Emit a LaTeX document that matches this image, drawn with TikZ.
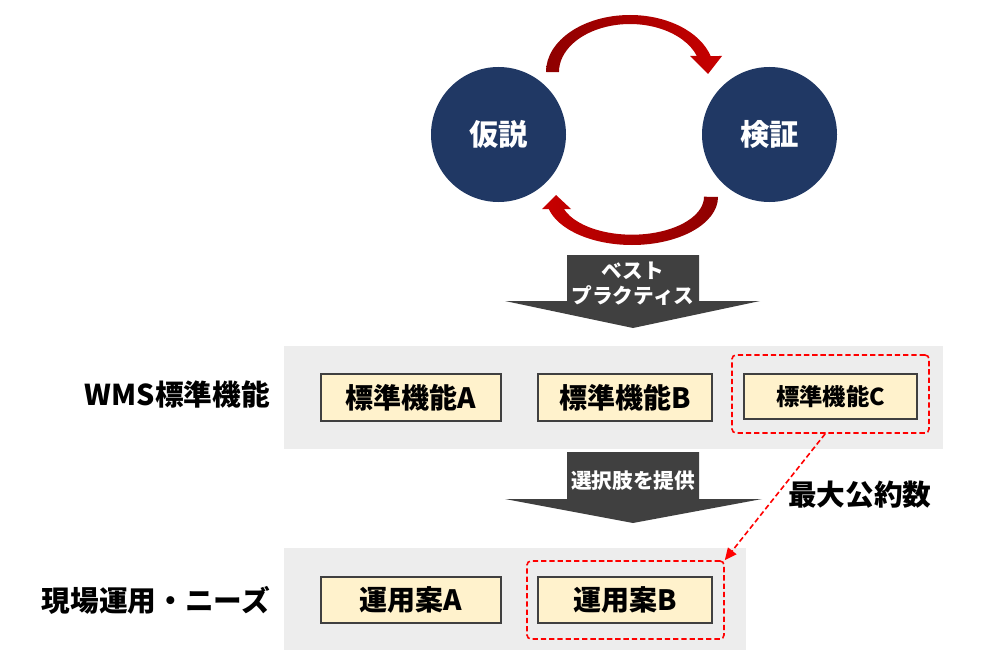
\documentclass[tikz,border=0pt]{standalone}
\usepackage{fontspec}
\setmainfont{Noto Sans CJK JP}
\usetikzlibrary{arrows.meta}
\definecolor{circblue}{HTML}{203864}
\definecolor{panelgray}{HTML}{EDEDED}
\definecolor{boxfill}{HTML}{FFF2CC}
\definecolor{boxborder}{HTML}{404040}
\definecolor{arrgray}{HTML}{404040}
\definecolor{arrdark}{HTML}{8E0000}
\definecolor{arrred}{HTML}{C80000}
\definecolor{dashred}{HTML}{FF0000}
\begin{document}
\begin{tikzpicture}[x=0.75pt,y=-0.75pt,
  circ/.style={circle, fill=circblue, minimum size=101.25pt, inner sep=0pt, text=white, font=\bfseries\fontsize{22}{26}\selectfont},
  panel/.style={fill=panelgray, draw=none, inner sep=0pt},
  featbox/.style={draw=boxborder, line width=1.3pt, fill=boxfill, inner sep=0pt, font=\bfseries\fontsize{21}{25}\selectfont},
  redbox/.style={draw=dashred, dash pattern=on 4pt off 2.2pt, line width=1.2pt, rounded corners=3pt, inner sep=0pt},
  arrtext/.style={text=white, align=center, inner sep=0pt, font=\bfseries\fontsize{15.5}{18.75}\selectfont},
  sidelabel/.style={inner sep=0pt, font=\bfseries\fontsize{21.5}{25}\selectfont}]
\useasboundingbox (0,0) rectangle (997,660);

% cycle
\node[circ] (kasetsu) at (498.5,134.5) {仮説};
\node[circ] (kensho) at (769.5,134.5) {検証};
\shade[left color=arrdark, right color=arrred]
  (546,72) arc[start angle=180, end angle=343.7, x radius=84, y radius=57]
  -- (722,56) -- (708,74) -- (690,56) -- (696.9,56)
  arc[start angle=340.5, end angle=180, x radius=71, y radius=48] -- cycle;
\shade[left color=arrred, right color=arrdark]
  (718,197) arc[start angle=0, end angle=165.5, x radius=86, y radius=48]
  -- (542,209) -- (556,195) -- (571,209) -- (563.9,209)
  arc[start angle=161.1, end angle=0, x radius=72, y radius=38] -- cycle;

% big arrow 1
\fill[arrgray] (567,255) -- (699,255) -- (699,301) -- (760,301) -- (633,328)
  -- (505,301) -- (567,301) -- cycle;
\node[arrtext] (best) at (633,284) {ベスト\\プラクティス};

% panel 1
\node[panel, minimum width=494.25pt, minimum height=77.25pt] (panelA) at (613.5,397.5) {};
\node[featbox, minimum width=135pt, minimum height=35.25pt] (fa) at (411,397.5) {標準機能A};
\node[featbox, minimum width=130.5pt, minimum height=35.25pt] (fb) at (625,397.5) {標準機能B};
\node[featbox, minimum width=129.75pt, minimum height=33.75pt, font=\bfseries\fontsize{17.5}{21}\selectfont] (fc) at (830.5,396.5) {標準機能C};
\node[redbox, minimum width=147.75pt, minimum height=58.5pt] (dashC) at (830.5,394) {};
\node[sidelabel, anchor=east] (wms) at (270,395) {WMS標準機能};

% big arrow 2
\fill[arrgray] (567,452) -- (699,452) -- (699,499) -- (762,499) -- (633,523)
  -- (505,499) -- (567,499) -- cycle;
\node[arrtext] (choice) at (633,481) {選択肢を提供};

% panel 2
\node[panel, minimum width=346.5pt, minimum height=76.5pt] (panelB) at (515,599) {};
\node[featbox, minimum width=135pt, minimum height=34.5pt] (ua) at (411,600) {運用案A};
\node[featbox, minimum width=130.5pt, minimum height=34.5pt] (ub) at (625,600) {運用案B};
\node[redbox, minimum width=147.75pt, minimum height=58.5pt] (dashB) at (625.5,600) {};
\node[sidelabel, anchor=east] (genba) at (270,600) {現場運用・ニーズ};

% connector
\draw[draw=dashred, dash pattern=on 4pt off 2.2pt, line width=1.2pt,
  -{Triangle[length=9pt,width=8pt,fill=dashred]}]
  ([xshift=-4pt]dashC.south) -- (dashB.north east);
\node[sidelabel, anchor=west] (gcd) at (788,495) {最大公約数};
\end{tikzpicture}
\end{document}
